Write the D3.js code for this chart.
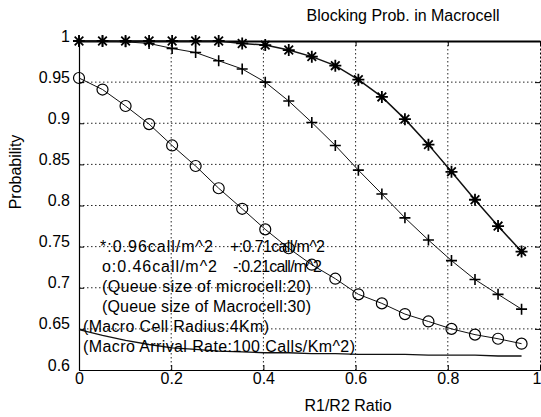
<!DOCTYPE html>
<html>
<head>
<meta charset="utf-8">
<script src="https://cdn.jsdelivr.net/npm/d3@7"></script>
<style>
  html, body { margin: 0; padding: 0; background: #fff; }
  svg { display: block; }
  text { font-family: "Liberation Sans", Arial, Helvetica, sans-serif; fill: #000; }
</style>
</head>
<body>
<svg id="chart" width="541" height="417"></svg>
<script>
// R1/R2 ratio sample points shared by all four curves
const ratio = [0, 0.051, 0.101, 0.152, 0.202, 0.253, 0.303, 0.354, 0.404, 0.455,
               0.505, 0.556, 0.606, 0.657, 0.707, 0.758, 0.808, 0.859, 0.909, 0.960];

// Blocking probability for each microcell call density
const density096 = [1.000, 1.000, 1.000, 1.000, 1.000, 1.000, 1.000, 0.997, 0.995, 0.989,
                    0.981, 0.970, 0.953, 0.932, 0.905, 0.874, 0.841, 0.807, 0.775, 0.744];
const density071 = [1.000, 1.000, 0.999, 0.997, 0.991, 0.986, 0.976, 0.966, 0.950, 0.927,
                    0.901, 0.873, 0.843, 0.814, 0.785, 0.758, 0.733, 0.710, 0.692, 0.674];
const density046 = [0.955, 0.941, 0.921, 0.899, 0.873, 0.848, 0.821, 0.796, 0.771, 0.748,
                    0.728, 0.711, 0.692, 0.681, 0.668, 0.659, 0.650, 0.643, 0.638, 0.632];
const density021 = [0.649, 0.642, 0.636, 0.631, 0.627, 0.625, 0.623, 0.622, 0.621, 0.621,
                    0.620, 0.620, 0.619, 0.619, 0.619, 0.618, 0.618, 0.618, 0.617, 0.617];

const xTickValues = [0, 0.2, 0.4, 0.6, 0.8, 1];
const yTickValues = [0.6, 0.65, 0.7, 0.75, 0.8, 0.85, 0.9, 0.95, 1];

const titleText = "Blocking Prob. in Macrocell";
const xLabelText = "R1/R2 Ratio";
const yLabelText = "Probability";

// Annotation rows written inside the plot
const noteRows = [
  ["*:0.96call/m^2", "+:0.71call/m^2"],
  ["o:0.46call/m^2", "-:0.21call/m^2"],
  ["(Queue size of microcell:20)"],
  ["(Queue size of Macrocell:30)"],
  ["(Macro Cell Radius:4Km)"],
  ["(Macro Arrival Rate:100 Calls/Km^2)"]
];

const svg = d3.select("#chart");
const plot = { left: 79, right: 540, top: 41, bottom: 370 };

const x = d3.scaleLinear().domain([0, 1]).range([plot.left, plot.right]);
const y = d3.scaleLinear().domain([0.6, 1]).range([plot.bottom, plot.top]);
const fmt = d3.format("~g");

// dotted grid
const grid = svg.append("g").attr("stroke", "#000").attr("stroke-width", 1)
  .attr("stroke-dasharray", "1.5,2.5").attr("opacity", 0.85);
grid.selectAll("line.v").data(xTickValues.filter(v => v > 0 && v < 1)).join("line")
  .attr("x1", d => x(d)).attr("x2", d => x(d))
  .attr("y1", plot.top).attr("y2", plot.bottom);
grid.selectAll("line.h").data(yTickValues.filter(v => v > 0.6 && v < 1)).join("line")
  .attr("x1", plot.left).attr("x2", plot.right)
  .attr("y1", d => y(d)).attr("y2", d => y(d));

// axes with inward ticks
const fontSize = 16;
const gx = svg.append("g").attr("transform", `translate(0,${plot.bottom})`)
  .call(d3.axisBottom(x).tickValues(xTickValues).tickFormat(fmt)
    .tickSizeInner(-5).tickSizeOuter(0).tickPadding(3));
const gy = svg.append("g").attr("transform", `translate(${plot.left},0)`)
  .call(d3.axisLeft(y).tickValues(yTickValues).tickFormat(fmt)
    .tickSizeInner(-5).tickSizeOuter(0).tickPadding(9));
const gt = svg.append("g").attr("transform", `translate(0,${plot.top})`)
  .call(d3.axisTop(x).tickValues(xTickValues).tickFormat("")
    .tickSizeInner(-5).tickSizeOuter(0));
const gr = svg.append("g").attr("transform", `translate(${plot.right},0)`)
  .call(d3.axisRight(y).tickValues(yTickValues).tickFormat("")
    .tickSizeInner(-5).tickSizeOuter(0));

[gx, gy, gt, gr].forEach(g => {
  g.selectAll(".domain").attr("stroke", "#000").attr("stroke-width", 1.2);
  g.selectAll(".tick line").attr("stroke", "#000").attr("stroke-width", 1);
  g.selectAll(".tick text").attr("font-size", fontSize)
    .style("font-family", '"Liberation Sans", Arial, sans-serif').attr("fill", "#000");
});
gt.select(".domain").attr("stroke-width", 2.2);
gr.select(".domain").attr("stroke-width", 1).attr("stroke-dasharray", "2,2");
gy.selectAll(".tick text").attr("dy", "0em");
// keep the last x label inside the frame edge
gx.selectAll(".tick text").filter(d => d === 1).attr("text-anchor", "end").attr("dx", 1);

// curves
const seriesList = [
  { values: density096, width: 1.5, marker: "star" },
  { values: density071, width: 1.0, marker: "plus" },
  { values: density046, width: 1.0, marker: "circle" },
  { values: density021, width: 1.3, marker: null }
];

const line = d3.line().x(d => x(d[0])).y(d => y(d[1]));

// eight-armed asterisk: plus overlaid with a cross
const starSymbol = {
  draw(ctx, size) {
    const r = Math.sqrt(size) / 2;
    const d = r * 0.72;
    ctx.moveTo(-r, 0); ctx.lineTo(r, 0);
    ctx.moveTo(0, -r); ctx.lineTo(0, r);
    ctx.moveTo(-d, -d); ctx.lineTo(d, d);
    ctx.moveTo(-d, d); ctx.lineTo(d, -d);
  }
};
const plusSymbol = {
  draw(ctx, size) {
    const r = Math.sqrt(size) / 2;
    ctx.moveTo(-r, 0); ctx.lineTo(r, 0);
    ctx.moveTo(0, -r); ctx.lineTo(0, r);
  }
};

seriesList.forEach(s => {
  const pts = ratio.map((r, i) => [r, s.values[i]]);
  svg.append("path").datum(pts)
    .attr("fill", "none").attr("stroke", "#111").attr("stroke-width", s.width)
    .attr("d", line);

  if (s.marker === "star") {
    svg.append("g").selectAll("path").data(pts).join("path")
      .attr("transform", d => `translate(${x(d[0])},${y(d[1])})`)
      .attr("d", d3.symbol(starSymbol, 144))
      .attr("fill", "none").attr("stroke", "#000").attr("stroke-width", 1.8);
  } else if (s.marker === "plus") {
    svg.append("g").selectAll("path").data(pts).join("path")
      .attr("transform", d => `translate(${x(d[0])},${y(d[1])})`)
      .attr("d", d3.symbol(plusSymbol, 121))
      .attr("fill", "none").attr("stroke", "#000").attr("stroke-width", 1.6);
  } else if (s.marker === "circle") {
    svg.append("g").selectAll("circle").data(pts).join("circle")
      .attr("cx", d => x(d[0])).attr("cy", d => y(d[1])).attr("r", 5.5)
      .attr("fill", "none").attr("stroke", "#000").attr("stroke-width", 1.2);
  }
});

// annotation block: start x, run width per text piece, baseline per row
const noteX = [[100, 230], [102, 233], [102], [102], [83], [83]];
const noteW = [[113, 95], [115, 89], [209], [209], [186], [272]];
const noteY = [252, 272, 292, 312, 332, 352];
noteRows.forEach((row, i) => {
  row.forEach((t, j) => {
    svg.append("text").attr("x", noteX[i][j]).attr("y", noteY[i])
      .attr("font-size", fontSize)
      .attr("textLength", noteW[i][j]).attr("lengthAdjust", "spacing")
      .text(t);
  });
});

// titles
svg.append("text").attr("x", 403).attr("y", 21).attr("text-anchor", "middle")
  .attr("font-size", fontSize).text(titleText);
svg.append("text").attr("x", 348).attr("y", 411).attr("text-anchor", "middle")
  .attr("font-size", fontSize).text(xLabelText);
svg.append("text").attr("transform", "translate(21,172) rotate(-90)")
  .attr("text-anchor", "middle").attr("font-size", fontSize).text(yLabelText);
</script>
</body>
</html>
